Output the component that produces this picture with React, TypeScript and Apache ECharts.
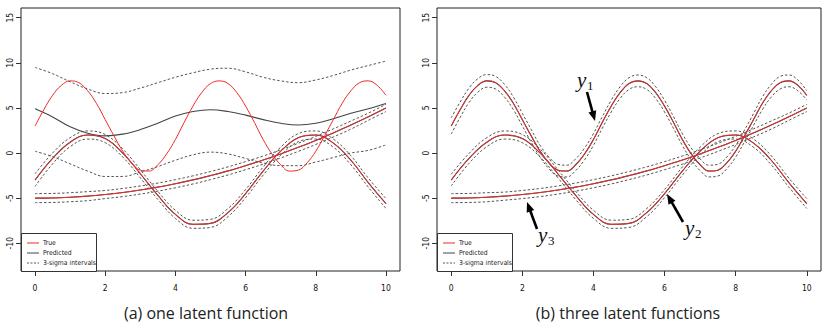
import { useEffect, useRef } from 'react';
import * as echarts from 'echarts';

// x positions (fine grid, step 0.25) used for the fast sinusoid y1
const X_FINE = [0, 0.25, 0.5, 0.75, 1, 1.25, 1.5, 1.75, 2, 2.25, 2.5, 2.75, 3, 3.25, 3.5, 3.75, 4, 4.25, 4.5, 4.75, 5, 5.25, 5.5, 5.75, 6, 6.25, 6.5, 6.75, 7, 7.25, 7.5, 7.75, 8, 8.25, 8.5, 8.75, 9, 9.25, 9.5, 9.75, 10];
// x positions (coarse grid, step 0.5)
const X_COARSE = [0, 0.5, 1, 1.5, 2, 2.5, 3, 3.5, 4, 4.5, 5, 5.5, 6, 6.5, 7, 7.5, 8, 8.5, 9, 9.5, 10];

// true latent outputs
const TRUE_Y1 = [3.0, 4.8, 6.4, 7.5, 8.0, 7.8, 6.9, 5.5, 3.7, 1.9, 0.2, -1.1, -1.9, -2.0, -1.3, -0.1, 1.5, 3.4, 5.2, 6.7, 7.7, 8.0, 7.7, 6.7, 5.2, 3.4, 1.5, -0.1, -1.3, -2.0, -1.9, -1.1, 0.2, 1.9, 3.7, 5.5, 6.9, 7.8, 8.0, 7.5, 6.4];
const TRUE_Y2 = [-3.0, -0.6, 1.2, 2.0, 1.6, 0.0, -2.3, -4.7, -6.8, -7.9, -7.8, -6.6, -4.5, -2.0, 0.2, 1.7, 2.0, 1.1, -0.8, -3.3, -5.6];
const TRUE_Y3 = [-5.0, -4.98, -4.9, -4.78, -4.6, -4.38, -4.1, -3.78, -3.4, -2.98, -2.5, -1.98, -1.4, -0.78, -0.1, 0.63, 1.4, 2.23, 3.1, 4.03, 5.0];

// panel (a): one latent function — poor prediction of y1
const PRED_A_Y1 = [4.9, 4.0, 2.9, 2.2, 1.9, 2.1, 2.6, 3.3, 4.1, 4.6, 4.8, 4.6, 4.2, 3.7, 3.3, 3.1, 3.3, 3.8, 4.4, 4.9, 5.5];
const UPPER_A_Y1 = [9.5, 8.8, 7.9, 7.1, 6.6, 6.7, 7.2, 7.8, 8.4, 8.9, 9.3, 9.4, 9.0, 8.4, 8.0, 7.8, 8.1, 8.6, 9.2, 9.7, 10.2];
const LOWER_A_Y1 = [0.2, -0.4, -1.2, -2.0, -2.6, -2.6, -2.1, -1.5, -0.8, -0.2, 0.1, -0.1, -0.6, -1.1, -1.4, -1.4, -1.0, -0.5, 0.0, 0.3, 0.9];
// 3-sigma half widths
const HALF_A_Y2 = [0.7, 0.6, 0.5, 0.45, 0.45, 0.45, 0.45, 0.45, 0.45, 0.45, 0.45, 0.45, 0.45, 0.45, 0.45, 0.45, 0.45, 0.45, 0.5, 0.5, 0.55];
const HALF_A_Y3 = [0.5, 0.5, 0.5, 0.5, 0.45, 0.45, 0.45, 0.45, 0.45, 0.45, 0.45, 0.45, 0.45, 0.45, 0.45, 0.45, 0.45, 0.45, 0.45, 0.4, 0.4];

// panel (b): three latent functions — 3-sigma half widths
const HALF_B_Y1 = [0.9, 0.85, 0.8, 0.75, 0.7, 0.7, 0.7, 0.7, 0.7, 0.7, 0.65, 0.65, 0.65, 0.65, 0.65, 0.65, 0.65, 0.65, 0.65, 0.65, 0.65, 0.65, 0.65, 0.65, 0.65, 0.65, 0.65, 0.65, 0.65, 0.65, 0.65, 0.65, 0.65, 0.65, 0.65, 0.7, 0.7, 0.7, 0.65, 0.6, 0.5];
const HALF_B_Y2 = [0.65, 0.55, 0.5, 0.45, 0.45, 0.45, 0.45, 0.45, 0.45, 0.45, 0.45, 0.45, 0.45, 0.45, 0.45, 0.45, 0.45, 0.45, 0.5, 0.5, 0.55];
const HALF_B_Y3 = [0.5, 0.5, 0.5, 0.45, 0.45, 0.45, 0.45, 0.45, 0.45, 0.45, 0.45, 0.45, 0.45, 0.45, 0.45, 0.45, 0.45, 0.45, 0.45, 0.4, 0.4];

const X_TICKS = [0, 2, 4, 6, 8, 10];
const Y_TICKS = [-10, -5, 0, 5, 10, 15];
const LEGEND_LABELS = ['True', 'Predicted', '3-sigma intervals'];
const CAPTIONS = ['(a) one latent function', '(b) three latent functions'];
const ANNOTATIONS = [
  { name: 'y', sub: '1' },
  { name: 'y', sub: '2' },
  { name: 'y', sub: '3' },
];

const RED = '#f02a2a';
const BLACK = '#444';
const DASH = '#555';
const TICK_FONT = "'Liberation Sans Narrow','DejaVu Sans Condensed','Arial Narrow',sans-serif";
const CAPTION_FONT = "'Open Sans',Lato,sans-serif";

const pair = (xs: number[], ys: number[]) => xs.map((x, i) => [x, ys[i]]);
const addArr = (a: number[], b: number[], s: number) => a.map((v, i) => +(v + s * b[i]).toFixed(3));

function lineSeries(name: string, data: number[][], gi: number, kind: 'true' | 'pred' | 'band') {
  const style =
    kind === 'true'
      ? { color: RED, width: 1, type: 'solid' as const }
      : kind === 'pred'
      ? { color: BLACK, width: 1.1, type: 'solid' as const }
      : { color: DASH, width: 1, type: [2.5, 2] as any };
  return {
    type: 'line',
    name,
    xAxisIndex: gi,
    yAxisIndex: gi,
    data,
    smooth: 0.4,
    showSymbol: false,
    symbol: 'none',
    silent: true,
    lineStyle: style,
    z: kind === 'true' ? 4 : kind === 'pred' ? 3 : 2,
  };
}

function arrow(x1: number, y1: number, x2: number, y2: number) {
  const dx = x2 - x1;
  const dy = y2 - y1;
  const L = Math.hypot(dx, dy);
  const ux = dx / L;
  const uy = dy / L;
  const head = 10;
  const half = 4;
  const bx = x2 - ux * head;
  const by = y2 - uy * head;
  return [
    { type: 'line', shape: { x1, y1, x2: bx + ux * 2, y2: by + uy * 2 }, style: { stroke: '#000', lineWidth: 2.6 } },
    {
      type: 'polygon',
      shape: { points: [[x2, y2], [bx - uy * half, by + ux * half], [bx + uy * half, by - ux * half]] },
      style: { fill: '#000' },
    },
  ];
}

function mathLabel(a: { name: string; sub: string }, x: number, y: number) {
  return [
    {
      type: 'text',
      x,
      y,
      style: {
        text: a.name,
        fontFamily: "'Liberation Serif','DejaVu Serif',serif",
        fontStyle: 'italic',
        fontSize: 21,
        fill: '#111',
        textAlign: 'left',
        textVerticalAlign: 'middle',
      },
    },
    {
      type: 'text',
      x: x + 10,
      y: y + 5,
      style: {
        text: a.sub,
        fontFamily: "'Liberation Serif','DejaVu Serif',serif",
        fontSize: 13,
        fill: '#111',
        textAlign: 'left',
        textVerticalAlign: 'middle',
      },
    },
  ];
}

function legend(left: number) {
  const top = 233;
  const rows = [
    { y: 243, stroke: RED, dash: null as any },
    { y: 253, stroke: BLACK, dash: null as any },
    { y: 263, stroke: DASH, dash: [2, 1.5] },
  ];
  const els: any[] = [
    { type: 'rect', shape: { x: left + 0.5, y: top + 0.5, width: 75, height: 38 }, style: { fill: '#fff', stroke: '#333', lineWidth: 1 }, z: 10 },
  ];
  rows.forEach((r, i) => {
    els.push({
      type: 'line',
      shape: { x1: left + 6, y1: r.y, x2: left + 18, y2: r.y },
      style: { stroke: r.stroke, lineWidth: 1, lineDash: r.dash },
      z: 11,
    });
    els.push({
      type: 'text',
      x: left + 22,
      y: r.y,
      style: { text: LEGEND_LABELS[i], fontFamily: TICK_FONT, fontSize: 6.8, fill: '#222', textVerticalAlign: 'middle' },
      z: 11,
    });
  });
  return els;
}

export default function App() {
  const ref = useRef<HTMLDivElement>(null);
  useEffect(() => {
    if (!ref.current) return;
    const chart = echarts.init(ref.current, null, { renderer: 'svg' });

    const grids = [
      { left: 21, top: 8, width: 379, height: 263 },
      { left: 437, top: 8, width: 384, height: 263 },
    ];

    const xAxes = grids.map((_, i) => ({
      type: 'value',
      gridIndex: i,
      min: -0.4,
      max: 10.4,
      axisLine: { show: false, onZero: false },
      splitLine: { show: false },
      axisTick: { show: true, length: 5, customValues: X_TICKS, lineStyle: { color: '#333' } },
      axisLabel: { customValues: X_TICKS, margin: 12, fontSize: 8.5, fontFamily: TICK_FONT, color: '#111' },
    }));
    const yAxes = grids.map((_, i) => ({
      type: 'value',
      gridIndex: i,
      min: -13.08,
      max: 16.08,
      axisLine: { show: false, onZero: false },
      splitLine: { show: false },
      axisTick: { show: true, length: 5, customValues: Y_TICKS, lineStyle: { color: '#333' } },
      axisLabel: { customValues: Y_TICKS, rotate: 90, margin: 7, fontSize: 8.5, fontFamily: TICK_FONT, color: '#111' },
    }));

    const series: any[] = [
      // panel (a)
      lineSeries('3-sigma intervals', pair(X_COARSE, UPPER_A_Y1), 0, 'band'),
      lineSeries('3-sigma intervals', pair(X_COARSE, LOWER_A_Y1), 0, 'band'),
      lineSeries('3-sigma intervals', pair(X_COARSE, addArr(TRUE_Y2, HALF_A_Y2, 1)), 0, 'band'),
      lineSeries('3-sigma intervals', pair(X_COARSE, addArr(TRUE_Y2, HALF_A_Y2, -1)), 0, 'band'),
      lineSeries('3-sigma intervals', pair(X_COARSE, addArr(TRUE_Y3, HALF_A_Y3, 1)), 0, 'band'),
      lineSeries('3-sigma intervals', pair(X_COARSE, addArr(TRUE_Y3, HALF_A_Y3, -1)), 0, 'band'),
      lineSeries('Predicted', pair(X_COARSE, PRED_A_Y1), 0, 'pred'),
      lineSeries('Predicted', pair(X_COARSE, TRUE_Y2), 0, 'pred'),
      lineSeries('Predicted', pair(X_COARSE, TRUE_Y3), 0, 'pred'),
      lineSeries('True', pair(X_FINE, TRUE_Y1), 0, 'true'),
      lineSeries('True', pair(X_COARSE, TRUE_Y2), 0, 'true'),
      lineSeries('True', pair(X_COARSE, TRUE_Y3), 0, 'true'),
      // panel (b)
      lineSeries('3-sigma intervals', pair(X_FINE, addArr(TRUE_Y1, HALF_B_Y1, 1)), 1, 'band'),
      lineSeries('3-sigma intervals', pair(X_FINE, addArr(TRUE_Y1, HALF_B_Y1, -1)), 1, 'band'),
      lineSeries('3-sigma intervals', pair(X_COARSE, addArr(TRUE_Y2, HALF_B_Y2, 1)), 1, 'band'),
      lineSeries('3-sigma intervals', pair(X_COARSE, addArr(TRUE_Y2, HALF_B_Y2, -1)), 1, 'band'),
      lineSeries('3-sigma intervals', pair(X_COARSE, addArr(TRUE_Y3, HALF_B_Y3, 1)), 1, 'band'),
      lineSeries('3-sigma intervals', pair(X_COARSE, addArr(TRUE_Y3, HALF_B_Y3, -1)), 1, 'band'),
      lineSeries('Predicted', pair(X_FINE, TRUE_Y1), 1, 'pred'),
      lineSeries('Predicted', pair(X_COARSE, TRUE_Y2), 1, 'pred'),
      lineSeries('Predicted', pair(X_COARSE, TRUE_Y3), 1, 'pred'),
      lineSeries('True', pair(X_FINE, TRUE_Y1), 1, 'true'),
      lineSeries('True', pair(X_COARSE, TRUE_Y2), 1, 'true'),
      lineSeries('True', pair(X_COARSE, TRUE_Y3), 1, 'true'),
    ];

    const graphic: any[] = [
      ...legend(21),
      ...legend(437),
      ...mathLabel(ANNOTATIONS[0], 577, 80),
      ...arrow(587, 92, 595, 121),
      ...mathLabel(ANNOTATIONS[1], 685, 228),
      ...arrow(683, 222, 667, 194),
      ...mathLabel(ANNOTATIONS[2], 538, 235),
      ...arrow(537, 229, 527, 202),
      {
        type: 'text',
        x: 206,
        y: 313,
        style: { text: CAPTIONS[0], fontFamily: CAPTION_FONT, fontSize: 16, fill: '#222', textAlign: 'center', textVerticalAlign: 'middle' },
      },
      {
        type: 'text',
        x: 628,
        y: 313,
        style: { text: CAPTIONS[1], fontFamily: CAPTION_FONT, fontSize: 16, fill: '#222', textAlign: 'center', textVerticalAlign: 'middle' },
      },
    ];

    chart.setOption({
      animation: false,
      backgroundColor: '#fff',
      grid: grids.map((g) => ({ ...g, show: true, borderColor: '#222', borderWidth: 1, backgroundColor: 'transparent', containLabel: false })),
      xAxis: xAxes,
      yAxis: yAxes,
      series,
      graphic,
    });
    return () => chart.dispose();
  }, []);
  return <div ref={ref} style={{ position: 'absolute', left: 0, top: 0, width: 831, height: 326 }} />;
}
